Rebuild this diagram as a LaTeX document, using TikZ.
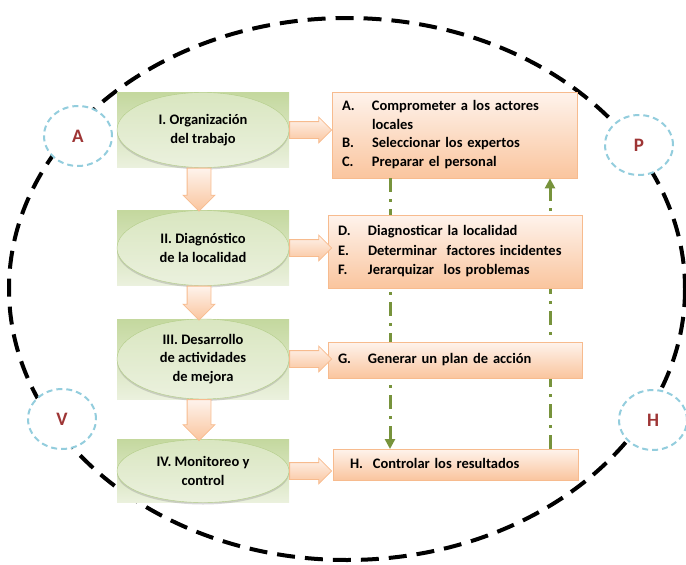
\documentclass[tikz,border=0pt]{standalone}
\usepackage{fontspec}
\setmainfont{Carlito}
\usetikzlibrary{shapes.geometric,shapes.arrows,arrows.meta,shadows}
\definecolor{verdeA}{HTML}{C4D89E}
\definecolor{verdeB}{HTML}{EBF1DE}
\definecolor{verdeC}{HTML}{B3CD88}
\definecolor{verdeD}{HTML}{D9E6C0}
\definecolor{oliva}{HTML}{77933C}
\definecolor{naranjaA}{HTML}{F7BB8E}
\definecolor{naranjaB}{HTML}{FEF3EC}
\definecolor{naranjaC}{HTML}{FAC59E}
\definecolor{celeste}{HTML}{93CDDD}
\definecolor{granate}{HTML}{9E3535}
\renewcommand{\arraystretch}{1.0}
\newcommand{\lista}[1]{\begin{tabular}{@{}p{30pt}@{}l@{}}#1\end{tabular}}
\begin{document}
\begin{tikzpicture}[x=1pt,y=-1pt,font=\bfseries\fontsize{14.5}{18.5}\selectfont,
  fase/.style={rectangle,top color=verdeA,bottom color=verdeB,minimum width=172pt},
  elipse/.style={ellipse,draw=verdeC,top color=verdeD,bottom color=verdeB,minimum width=172pt,inner sep=0pt,align=center,
    drop shadow={shadow xshift=0pt,shadow yshift=-2pt,opacity=.3}},
  tarea/.style={rectangle,draw=naranjaA,line width=.8pt,top color=naranjaB,bottom color=naranjaC,inner xsep=10pt,align=left},
  flecha/.style={single arrow,draw=naranjaA,line width=.8pt,top color=naranjaB,bottom color=naranjaC,inner xsep=0pt},
  letra/.style={ellipse,draw=celeste,line width=2pt,dash pattern=on 6pt off 4pt,fill=white,minimum width=68pt,minimum height=60pt,
    text=granate,font=\bfseries\fontsize{19}{22}\selectfont},
  cadena/.style={draw=oliva,line width=3pt,dash pattern=on 14pt off 7pt on 3pt off 7pt}]
\useasboundingbox(0,0)rectangle(686,565);
\draw[line width=4pt,dash pattern=on 18pt off 10pt](347,289)ellipse[x radius=338,y radius=271];
% fases
\foreach \n/\y/\h/\t in {1/130/75/{I. Organización\\del trabajo},2/248/75/{II. Diagnóstico\\de la localidad},
  3/359/80/{III. Desarrollo\\de actividades\\de mejora},4/471/63/{IV. Monitoreo y\\control}}{
  \node[fase,minimum height=\h](f\n)at(203,\y){};
  \node[elipse,minimum height=\h]at(f\n){\t};
}
% lineas de control
\coordinate(x1)at(390,0);
\coordinate(x2)at(550,0);
% tareas
\node[tarea,text width=225pt,minimum height=86pt](o1)at(454.5,135){\lista{A. & Comprometer a los actores\\ & locales\\
  B. & Seleccionar los expertos\\ C. & Preparar el personal}};
\draw[cadena,-{Triangle[length=10pt,width=10pt]}](o1.south -| x1)--(454,449 -| x1);
\draw[cadena,-{Triangle[length=10pt,width=10pt]}](454,449 -| x2)--(o1.south -| x2);
\node[tarea,text width=234pt,minimum height=73pt](o2)at(455,251.5){\lista{D. & Diagnosticar la localidad\\[1pt]
  E. & Determinar\ \ factores incidentes\\[1pt] F. & Jerarquizar\ \ los problemas}};
\node[tarea,text width=234pt,minimum height=36pt](o3)at(455,360){\lista{G. & Generar un plan de acción}};
\node[tarea,text width=225pt,minimum height=31pt](o4)at(455.5,464.5){\lista{\hspace*{7pt}H. & Controlar los resultados}};
% flechas
\foreach \n in {1,...,4}
  \node[flecha,anchor=tail,minimum height=42pt,inner ysep=8pt,single arrow head extend=4.5pt](h\n)at(f\n.east){};
\foreach \n/\m/\l in {1/2/43,2/3/34,3/4/41}
  \node[flecha,rotate=-90,anchor=tail,minimum height=\l,inner ysep=11.5pt,single arrow head extend=4pt](v\n)at([xshift=-4pt]f\n.south){};
% letras
\foreach \l/\x/\y in {A/78/136,P/639/145,V/62/419,H/653/420}
  \node[letra](c\l)at(\x,\y){\l};
\end{tikzpicture}
\end{document}
